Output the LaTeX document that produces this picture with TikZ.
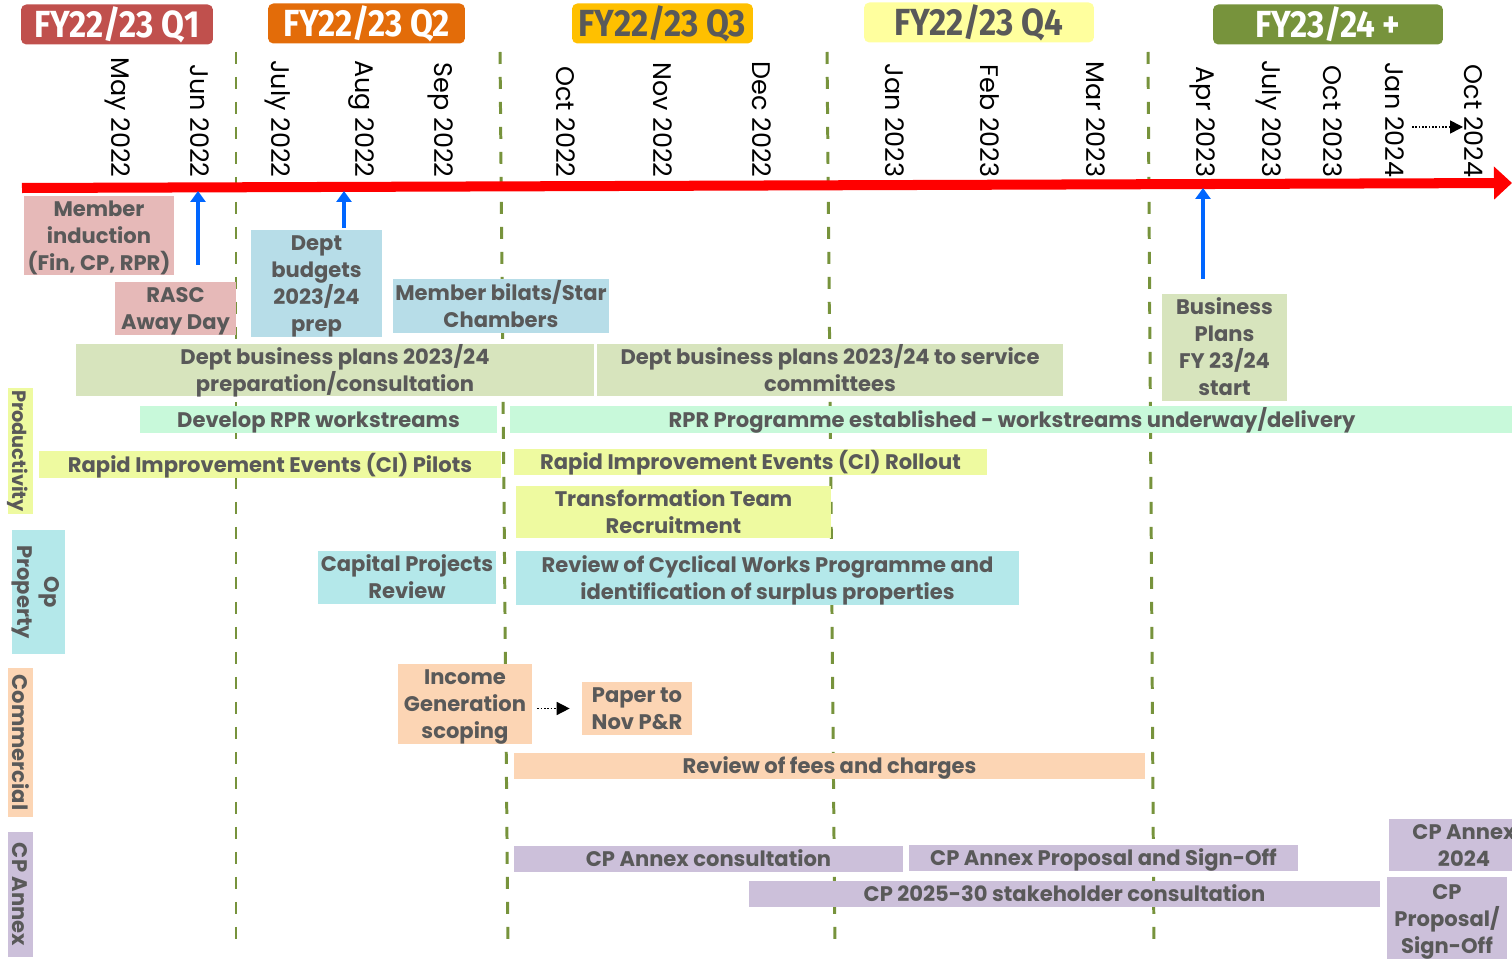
\documentclass[tikz,border=0pt]{standalone}
\usepackage{fontspec}
\setmainfont{Poppins}
\newfontfamily\hdrfont[FakeStretch=0.88]{Fira Sans}
\usetikzlibrary{arrows.meta}
\usepackage{xcolor}
\definecolor{qonered}{HTML}{C0504D}
\definecolor{qtwoorange}{HTML}{E36C09}
\definecolor{qthreeamber}{HTML}{FFC000}
\definecolor{qfouryellow}{HTML}{FFFF9E}
\definecolor{fygreen}{HTML}{77933C}
\definecolor{txtgray}{HTML}{595959}
\definecolor{pinkbox}{HTML}{E6B9B8}
\definecolor{bluebox}{HTML}{B7DDE8}
\definecolor{olivebox}{HTML}{D7E4BD}
\definecolor{mintbox}{HTML}{C8F9DA}
\definecolor{yellowbox}{HTML}{EEFAA0}
\definecolor{cyanbox}{HTML}{B4E8EA}
\definecolor{peachbox}{HTML}{FCD5B4}
\definecolor{lilacbox}{HTML}{CCC0DA}
\definecolor{arrblue}{HTML}{0066FF}

\begin{document}
\begin{tikzpicture}[x=0.02cm, y=-0.02cm,
  hdr/.style = {rounded corners=3pt, inner sep=0, minimum height=0.8cm, font=\hdrfont\bfseries\fontsize{21.5}{21.5}\selectfont},
  month/.style = {rotate=-90, anchor=east, inner sep=0, font=\fontsize{14.5}{14.5}\selectfont},
  task/.style = {inner sep=0, align=center, text=txtgray, font=\bfseries\fontsize{12}{15.3}\selectfont, text depth=2.6pt},
  one/.style = {task, text height=11.5pt},
  two/.style = {task, text height=26.8pt},
  three/.style = {task, text height=42.1pt},
  four/.style = {task, text height=57.4pt},
  qline/.style = {draw=fygreen, line width=1.7pt, dash pattern=on 0.24cm off 0.26cm},
  timeline/.style = {draw=red, line width=5.7pt, -{Triangle[length=0.36cm,width=0.64cm]}},
  upar/.style = {draw=arrblue, line width=2.3pt, -{Triangle[length=0.22cm,width=0.3cm]}},
  dotar/.style = {densely dotted, line width=0.9pt, -{Triangle[length=0.26cm,width=0.26cm]}}]
	\clip (0,0) rectangle (1512,959);
	% quarter boundaries
	\foreach \xa/\xb in {236/236, 500/508, 827/835, 1148/1154}
		\draw[qline] (\xa,52) -- (\xb,950);
	% quarter headers
	\node[hdr, fill=qonered, text=white, minimum width=3.84cm] (q1) at (117,24.5) {FY22/23 Q1};
	\node[hdr, fill=qtwoorange, text=white, minimum width=3.94cm] (q2) at (366.5,23.5) {FY22/23 Q2};
	\node[hdr, fill=qthreeamber, text=txtgray, minimum width=3.62cm] (q3) at (662.5,23.5) {FY22/23 Q3};
	\node[hdr, fill=qfouryellow, text=txtgray, minimum width=4.6cm] (q4) at (979,22.5) {FY22/23 Q4};
	\node[hdr, fill=fygreen, text=white, minimum width=4.6cm] (fy24) at (1328,24.5) {FY23/24 +};
	% months
	\foreach \m/\x in {May 2022/118, Jun 2022/200, July 2022/278, Aug 2022/361, Sep 2022/441,
		Oct 2022/566, Nov 2022/663, Dec 2022/762, Jan 2023/895, Feb 2023/990, Mar 2023/1096,
		Apr 2023/1203, July 2023/1269, Oct 2023/1333, Jan 2024/1395, Oct 2024/1474}
		\node[month] (m\x) at (\x,178) {\m};
	\coordinate (ja) at (1412,127);
	\coordinate (jb) at (1463,127);
	\draw[dotar] (ja) -- (jb);
	% timeline
	\coordinate (tl0) at (22,188);
	\coordinate (tl1) at (1512,183);
	\draw[timeline] (tl0) -- (tl1);
	% Q1 / Q2
	\node[three, fill=pinkbox, minimum width=3cm, minimum height=1.54cm] (induct) at (99,235.5) {Member\\induction\\(Fin, CP, RPR)};
	\node[two, fill=pinkbox, minimum width=2.42cm, minimum height=1.06cm] (rasc) at (175.5,308.5) {RASC\\Away Day};
	\node[four, fill=bluebox, minimum width=2.62cm, minimum height=2.14cm] (budgets) at (316.5,283.5) {Dept\\budgets\\2023/24\\prep};
	\node[two, fill=bluebox, minimum width=4.32cm, minimum height=1.08cm] (bilats) at (501,306) {Member bilats/Star\\Chambers};
	\node[two, fill=olivebox, minimum width=10.36cm, minimum height=1.04cm] (bplana) at (335,370) {Dept business plans 2023/24\\preparation/consultation};
	\node[two, fill=olivebox, minimum width=9.32cm, minimum height=1.04cm] (bplanb) at (830,370) {Dept business plans 2023/24 to service\\committees};
	\node[four, fill=olivebox, minimum width=2.5cm, minimum height=2.14cm] (bpstart) at (1224.5,347.5) {Business\\Plans\\FY 23/24\\start};
	\coordinate (u1) at (198,265);
	\coordinate (u1t) at (198,191);
	\coordinate (u2) at (344,228);
	\coordinate (u2t) at (344,191);
	\coordinate (u3) at (1203,279);
	\coordinate (u3t) at (1203,188);
	\draw[upar] (u1) -- (u1t);
	\draw[upar] (u2) -- (u2t);
	\draw[upar] (u3) -- (u3t);
	% productivity
	\node[one, rotate=-90, fill=yellowbox, minimum width=2.52cm, minimum height=0.5cm, font=\bfseries\fontsize{11}{15.3}\selectfont] (prod) at (20.5,451) {Productivity};
	\node[one, fill=mintbox, minimum width=7.14cm, minimum height=0.54cm] (rprdev) at (318.5,419.5) {Develop RPR workstreams};
	\node[one, fill=mintbox, minimum width=20.08cm, minimum height=0.54cm] (rprprog) at (1012,419.5) {RPR Programme established - workstreams underway/delivery};
	\node[one, fill=yellowbox, minimum width=9.24cm, minimum height=0.54cm] (riepilot) at (270,464.5) {Rapid Improvement Events (CI) Pilots};
	\node[one, fill=yellowbox, minimum width=9.46cm, minimum height=0.52cm] (rieroll) at (750.5,462) {Rapid Improvement Events (CI) Rollout};
	\node[two, fill=yellowbox, minimum width=6.3cm, minimum height=1.04cm] (ttr) at (673.5,512) {Transformation Team\\Recruitment};
	% op property
	\node[two, rotate=-90, fill=cyanbox, minimum width=2.48cm, minimum height=1.06cm] (opprop) at (38.5,592) {Op\\Property};
	\node[two, fill=cyanbox, minimum width=3.56cm, minimum height=1.06cm] (cpr) at (407,577.5) {Capital Projects\\Review};
	\node[two, fill=cyanbox, minimum width=10.06cm, minimum height=1.08cm] (cyc) at (767.5,578) {Review of Cyclical Works Programme and\\identification of surplus properties};
	% commercial
	\node[one, rotate=-90, fill=peachbox, minimum width=2.98cm, minimum height=0.5cm] (comm) at (20.5,742.5) {Commercial};
	\node[three, fill=peachbox, minimum width=2.68cm, minimum height=1.6cm] (igs) at (465,704) {Income\\Generation\\scoping};
	\node[two, fill=peachbox, minimum width=2.2cm, minimum height=1.06cm] (paper) at (637,708.5) {Paper to\\Nov P\&R};
	\draw[dotar, shorten <=0.1cm, shorten >=0.24cm] (igs.east |- paper.west) -- (paper.west);
	\node[one, fill=peachbox, minimum width=12.62cm, minimum height=0.52cm] (fees) at (829.5,766) {Review of fees and charges};
	% cp annex
	\node[one, rotate=-90, fill=lilacbox, minimum width=2.5cm, minimum height=0.5cm] (cpann) at (20.5,894.5) {CP Annex};
	\node[one, fill=lilacbox, minimum width=7.78cm, minimum height=0.52cm] (cpcons) at (708.5,859) {CP Annex consultation};
	\node[one, fill=lilacbox, minimum width=7.78cm, minimum height=0.52cm] (cpsign) at (1103.5,858) {CP Annex Proposal and Sign-Off};
	\node[one, fill=lilacbox, minimum width=12.62cm, minimum height=0.52cm] (cptwo) at (1064.5,894) {CP 2025-30 stakeholder consultation};
	\node[two, fill=lilacbox, minimum width=3cm, minimum height=1.04cm] (cpnext) at (1464,845) {CP Annex\\2024};
	\node[three, fill=lilacbox, minimum width=2.4cm, minimum height=1.7cm] (cpfinal) at (1447,919) {CP\\Proposal/\\Sign-Off};
\end{tikzpicture}
\end{document}
